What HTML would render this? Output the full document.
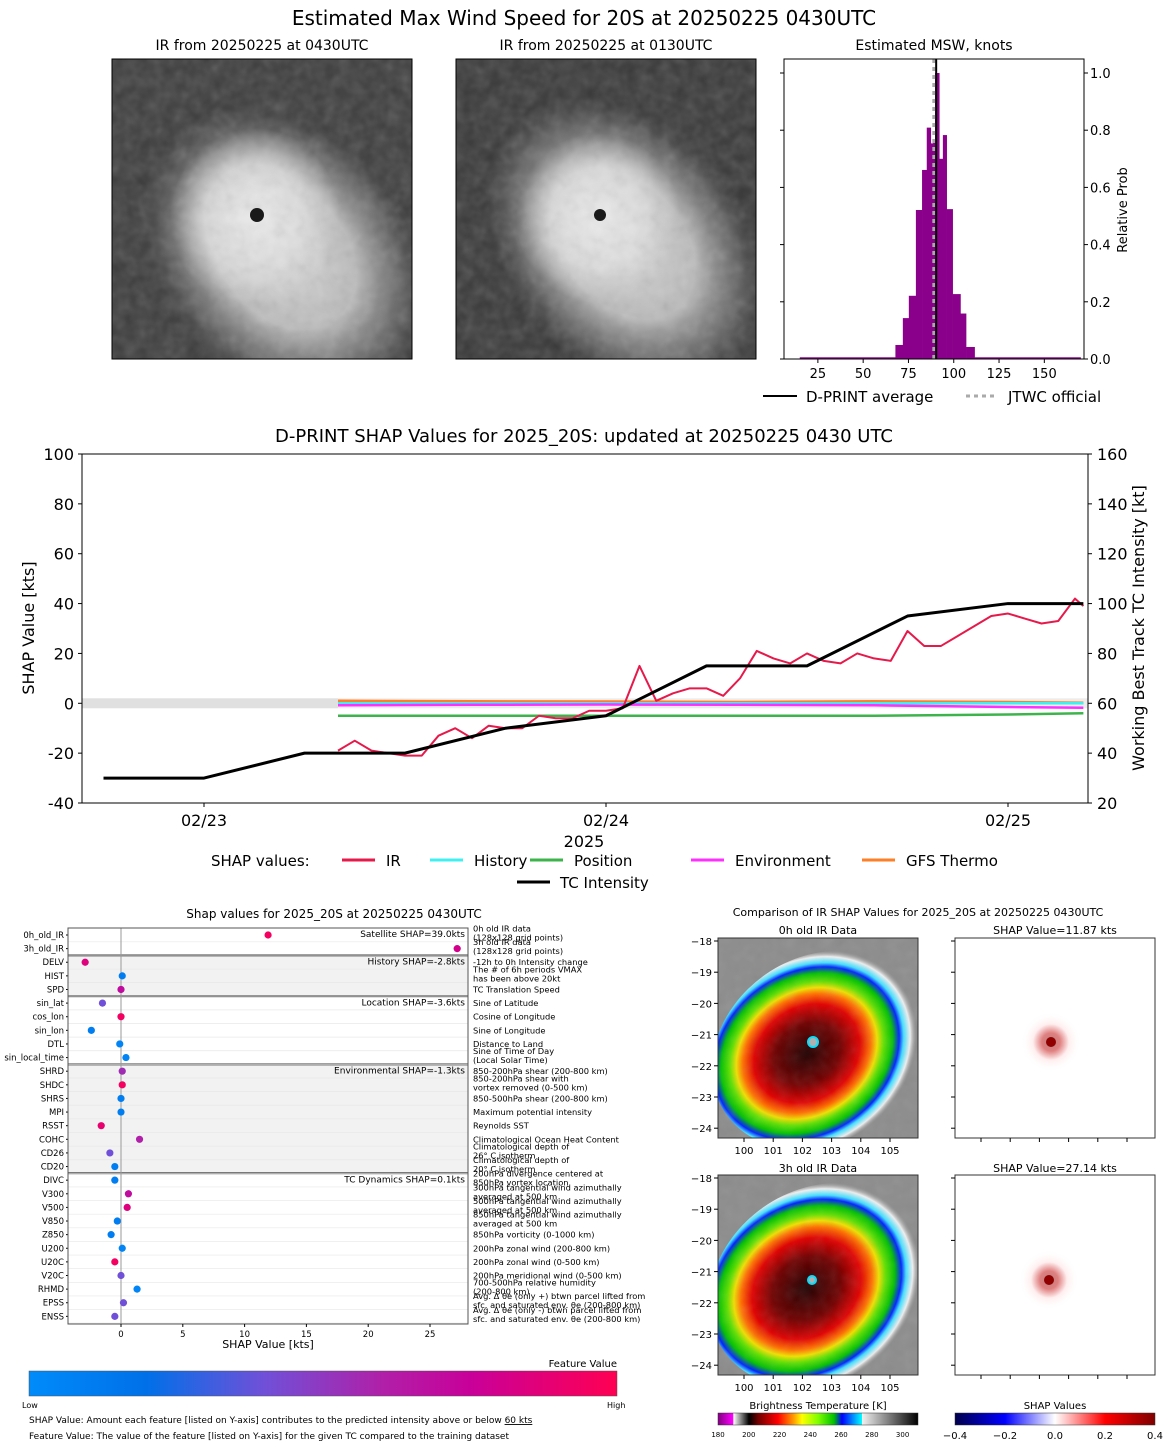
<!DOCTYPE html>
<html><head><meta charset="utf-8"><style>
body{margin:0;background:#fff;}
svg text{font-family:"DejaVu Sans","Liberation Sans",sans-serif;}
</style></head><body>
<svg id="s" width="1168" height="1446" viewBox="0 0 1168 1446" xmlns="http://www.w3.org/2000/svg">
<defs>
<clipPath id="c1"><rect x="112" y="59" width="300" height="300"/></clipPath>
<clipPath id="c2"><rect x="456" y="59" width="300" height="300"/></clipPath>
<clipPath id="c3"><rect x="718" y="938" width="200" height="200"/></clipPath>
<clipPath id="c4"><rect x="718" y="1175" width="200" height="200"/></clipPath>
<radialGradient id="cloud1" cx="0.5" cy="0.5" r="0.5">
<stop offset="0" stop-color="#d8d8d8"/><stop offset="0.5" stop-color="#c8c8c8" stop-opacity="0.9"/><stop offset="0.8" stop-color="#909090" stop-opacity="0.5"/><stop offset="1" stop-color="#606060" stop-opacity="0"/></radialGradient>
<radialGradient id="core" cx="0.5" cy="0.5" r="0.5">
<stop offset="0" stop-color="#ececec"/><stop offset="0.6" stop-color="#e0e0e0" stop-opacity="0.8"/><stop offset="1" stop-color="#d0d0d0" stop-opacity="0"/></radialGradient>
<filter id="noise"><feTurbulence type="fractalNoise" baseFrequency="0.08" numOctaves="2" seed="3"/><feColorMatrix type="saturate" values="0"/><feComponentTransfer><feFuncA type="linear" slope="0.25"/></feComponentTransfer><feComposite in2="SourceGraphic" operator="in"/></filter>
<linearGradient id="featgrad" x1="0" x2="1"><stop offset="0" stop-color="#008bfa"/><stop offset="0.2" stop-color="#0070e8"/><stop offset="0.4" stop-color="#7050d8"/><stop offset="0.6" stop-color="#b020a8"/><stop offset="0.75" stop-color="#c8009a"/><stop offset="1" stop-color="#ff0052"/></linearGradient>
<linearGradient id="btgrad" x1="0" x2="1"><stop offset="0" stop-color="#800080"/><stop offset="0.075" stop-color="#ff00ff"/><stop offset="0.078" stop-color="#ffffff"/><stop offset="0.155" stop-color="#000"/><stop offset="0.2" stop-color="#700000"/><stop offset="0.3" stop-color="#ff0000"/><stop offset="0.38" stop-color="#ffa000"/><stop offset="0.42" stop-color="#ffff00"/><stop offset="0.5" stop-color="#80ff00"/><stop offset="0.58" stop-color="#00c000"/><stop offset="0.62" stop-color="#0000ff"/><stop offset="0.72" stop-color="#00ffff"/><stop offset="0.721" stop-color="#f0f0f0"/><stop offset="1" stop-color="#000"/></linearGradient>
<linearGradient id="shapgrad" x1="0" x2="1"><stop offset="0" stop-color="#00004c"/><stop offset="0.25" stop-color="#0000ff"/><stop offset="0.5" stop-color="#ffffff"/><stop offset="0.75" stop-color="#ff0000"/><stop offset="1" stop-color="#800000"/></linearGradient>
<radialGradient id="irc" cx="0.45" cy="0.48" r="0.52">
<stop offset="0" stop-color="#200000"/><stop offset="0.3" stop-color="#700000"/><stop offset="0.48" stop-color="#e00000"/><stop offset="0.58" stop-color="#ff7000"/><stop offset="0.64" stop-color="#f0e000"/><stop offset="0.7" stop-color="#60e000"/><stop offset="0.78" stop-color="#00c000"/><stop offset="0.84" stop-color="#0020ff"/><stop offset="0.88" stop-color="#40e0ff"/><stop offset="0.94" stop-color="#f0f0f0"/><stop offset="1" stop-color="#a0a0a0" stop-opacity="0"/></radialGradient>
<radialGradient id="shapblob"><stop offset="0" stop-color="#700000"/><stop offset="0.3" stop-color="#c00000"/><stop offset="0.6" stop-color="#ffdddd"/><stop offset="1" stop-color="#ffffff" stop-opacity="0"/></radialGradient>
</defs>

<text x="584" y="25" font-size="20" text-anchor="middle">Estimated Max Wind Speed for 20S at 20250225 0430UTC</text>

<g>
<text x="262" y="50" font-size="14" text-anchor="middle">IR from 20250225 at 0430UTC</text>
<g clip-path="url(#c1)">
<rect x="112" y="59" width="300" height="300" fill="#3c3c3c"/>
<ellipse cx="285" cy="255" rx="165" ry="125" fill="url(#cloud1)" transform="rotate(50 285 255)"/>
<ellipse cx="255" cy="218" rx="85" ry="90" fill="url(#core)"/>
<rect x="112" y="59" width="300" height="300" fill="#888" filter="url(#noise)"/>
</g>
<circle cx="257" cy="215" r="7" fill="#1a1a1a"/>
<rect x="112" y="59" width="300" height="300" fill="none" stroke="#000"/>
</g>
<g>
<text x="606" y="50" font-size="14" text-anchor="middle">IR from 20250225 at 0130UTC</text>
<g clip-path="url(#c2)">
<rect x="456" y="59" width="300" height="300" fill="#383838"/>
<ellipse cx="625" cy="245" rx="165" ry="120" fill="url(#cloud1)" transform="rotate(50 625 245)"/>
<ellipse cx="598" cy="218" rx="82" ry="85" fill="url(#core)"/>
<rect x="456" y="59" width="300" height="300" fill="#888" filter="url(#noise)"/>
</g>
<circle cx="600" cy="215" r="6" fill="#1a1a1a"/>
<rect x="456" y="59" width="300" height="300" fill="none" stroke="#000"/>
</g>

<g id="hist">
<text x="934" y="50" font-size="14" text-anchor="middle">Estimated MSW, knots</text>
</g>
<g id="main"></g>
<g id="bees"></g>

<g>
<text x="918" y="916" font-size="11" text-anchor="middle">Comparison of IR SHAP Values for 2025_20S at 20250225 0430UTC</text>
<text x="818" y="934" font-size="11" text-anchor="middle">0h old IR Data</text>
<text x="1055" y="934" font-size="11" text-anchor="middle">SHAP Value=11.87 kts</text>
<text x="818" y="1172" font-size="11" text-anchor="middle">3h old IR Data</text>
<text x="1055" y="1172" font-size="11" text-anchor="middle">SHAP Value=27.14 kts</text>
<g>
<g clip-path="url(#c3)">
<rect x="718" y="938" width="200" height="200" fill="#8c8c8c"/>
<ellipse cx="818" cy="1050" rx="112" ry="92" fill="url(#irc)" transform="rotate(-35 818 1050)"/>
<rect x="718" y="938" width="200" height="200" fill="#888" filter="url(#noise)" opacity="0.5"/>
</g>
<circle cx="813" cy="1042" r="5" fill="#b0b0b0" stroke="#00e0ff" stroke-width="2"/>
<rect x="718" y="938" width="200" height="200" fill="none" stroke="#333"/>
</g>
<g>
<g clip-path="url(#c4)">
<rect x="718" y="1175" width="200" height="200" fill="#8c8c8c"/>
<ellipse cx="818" cy="1285" rx="115" ry="95" fill="url(#irc)" transform="rotate(-35 818 1285)"/>
<rect x="718" y="1175" width="200" height="200" fill="#888" filter="url(#noise)" opacity="0.5"/>
</g>
<circle cx="812" cy="1280" r="4" fill="#b0b0b0" stroke="#00e0ff" stroke-width="2"/>
<rect x="718" y="1175" width="200" height="200" fill="none" stroke="#333"/>
</g>
<g>
<rect x="955" y="938" width="200" height="200" fill="#fff" stroke="#333"/>
<circle cx="1051" cy="1042" r="30" fill="url(#shapblob)" opacity="0.5"/>
<circle cx="1051" cy="1042" r="5" fill="#900000"/>
</g>
<g>
<rect x="955" y="1175" width="200" height="200" fill="#fff" stroke="#333"/>
<circle cx="1049" cy="1280" r="30" fill="url(#shapblob)" opacity="0.5"/>
<circle cx="1049" cy="1280" r="5" fill="#900000"/>
</g>
<g id="mapaxes" font-size="10"></g>
<text x="818" y="1409" font-size="10" text-anchor="middle">Brightness Temperature [K]</text>
<rect x="718" y="1413" width="200" height="12" fill="url(#btgrad)" stroke="#333" stroke-width="0.5"/>
<text x="1055" y="1409" font-size="10" text-anchor="middle">SHAP Values</text>
<rect x="955" y="1413" width="200" height="12" fill="url(#shapgrad)" stroke="#333" stroke-width="0.5"/>
</g>

<g>
<text x="617" y="1367" font-size="10" text-anchor="end">Feature Value</text>
<rect x="29" y="1371" width="588" height="25" fill="url(#featgrad)" stroke="#555" stroke-width="0.5"/>
<text x="22" y="1408" font-size="8">Low</text>
<text x="607" y="1408" font-size="8">High</text>
<text x="29" y="1423" font-size="9">SHAP Value: Amount each feature [listed on Y-axis] contributes to the predicted intensity above or below <tspan text-decoration="underline">60 kts</tspan></text>
<text x="29" y="1439" font-size="9">Feature Value: The value of the feature [listed on Y-axis] for the given TC compared to the training dataset</text>
</g>
</svg>
<script>
const NS="http://www.w3.org/2000/svg";
function mk(parent,tag,attrs,txt){const e=document.createElementNS(NS,tag);for(const k in attrs)e.setAttribute(k,attrs[k]);if(txt!==undefined)e.textContent=txt;parent.appendChild(e);return e;}

// ---------- Histogram data ----------
const binEdges=[15,67.8,71.9,75.2,79.1,82.5,85.1,87.3,88.6,89.7,92.0,94.0,96.1,99.4,103.7,106.8,111.5,170];
const binProb=[0.006,0.049,0.143,0.221,0.521,0.661,0.809,0.754,0.76,1.0,0.70,0.783,0.524,0.227,0.159,0.042,0.006];
const histXTicks=[25,50,75,100,125,150];
const histYTicks=[0,0.2,0.4,0.6,0.8,1.0];
const dprintAvg=90.3;
const jtwcOfficial=89;

// ---------- Time series data (hours since 02/23 00UTC) ----------
const tcHours=[-6,0,6,12,18,24,30,36,42,48,52.5];
const tcIntensity=[30,30,40,40,50,55,75,75,95,100,100];
const irHours=[8,9,10,11,12,13,14,15,16,17,18,19,20,21,22,23,24,25,26,27,28,29,30,31,32,33,34,35,36,37,38,39,40,41,42,43,44,45,46,47,48,49,50,51,52,52.5];
const irShap=[-19,-15,-19,-20,-21,-21,-13,-10,-14,-9,-10,-10,-5,-6,-6,-3,-3,-2,15,1,4,6,6,3,10,21,18,16,20,17,16,20,18,17,29,23,23,27,31,35,36,34,32,33,42,39];
const compHours=[8,16,24,32,40,48,52.5];
const historyShap=[0,0,0,0,0,0,0];
const positionShap=[-5,-5,-5,-5,-5,-4.5,-4];
const environmentShap=[-0.8,-0.6,-0.5,-0.6,-0.8,-1.5,-1.8];
const gfsShap=[1,0.8,0.7,0.5,0.8,0.5,0.2];
const mainYTicks=[-40,-20,0,20,40,60,80,100];
const mainY2Ticks=[20,40,60,80,100,120,140,160];
const mainXTicks=[0,24,48];
const mainXLabels=["02/23","02/24","02/25"];

// ---------- Beeswarm data ----------
const featNames=["0h_old_IR","3h_old_IR","DELV","HIST","SPD","sin_lat","cos_lon","sin_lon","DTL","sin_local_time","SHRD","SHDC","SHRS","MPI","RSST","COHC","CD26","CD20","DIVC","V300","V500","V850","Z850","U200","U20C","V20C","RHMD","EPSS","ENSS"];
const featShap=[11.9,27.2,-2.9,0.1,0.0,-1.5,0.0,-2.4,-0.1,0.4,0.1,0.1,0.0,0.0,-1.6,1.5,-0.9,-0.5,-0.5,0.6,0.5,-0.3,-0.8,0.1,-0.5,0.0,1.3,0.2,-0.5];
const featLevel=[0.95,0.8,0.85,0.1,0.7,0.4,0.95,0.1,0.05,0.05,0.55,0.95,0.1,0.1,0.9,0.6,0.4,0.1,0.1,0.7,0.85,0.1,0.1,0.05,0.95,0.4,0.05,0.4,0.4];
const featDesc=[["0h old IR data","(128x128 grid points)"],["3h old IR data","(128x128 grid points)"],["-12h to 0h Intensity change"],["The # of 6h periods VMAX","has been above 20kt"],["TC Translation Speed"],["Sine of Latitude"],["Cosine of Longitude"],["Sine of Longitude"],["Distance to Land"],["Sine of Time of Day","(Local Solar Time)"],["850-200hPa shear (200-800 km)"],["850-200hPa shear with","vortex removed (0-500 km)"],["850-500hPa shear (200-800 km)"],["Maximum potential intensity"],["Reynolds SST"],["Climatological Ocean Heat Content"],["Climatological depth of","26° C isotherm"],["Climatological depth of","20° C isotherm"],["200hPa divergence centered at","850hPa vortex location"],["300hPa tangential wind azimuthally","averaged at 500 km"],["500hPa tangential wind azimuthally","averaged at 500 km"],["850hPa tangential wind azimuthally","averaged at 500 km"],["850hPa vorticity (0-1000 km)"],["200hPa zonal wind (200-800 km)"],["200hPa zonal wind (0-500 km)"],["200hPa meridional wind (0-500 km)"],["700-500hPa relative humidity","(200-800 km)"],["Avg. Δ θe (only +) btwn parcel lifted from","sfc. and saturated env. θe (200-800 km)"],["Avg. Δ θe (only -) btwn parcel lifted from","sfc. and saturated env. θe (200-800 km)"]];
const groupStarts=[0,2,5,10,18];
const groupLabels=["Satellite SHAP=39.0kts","History SHAP=-2.8kts","Location SHAP=-3.6kts","Environmental SHAP=-1.3kts","TC Dynamics SHAP=0.1kts"];
const beeXTicks=[0,5,10,15,20,25];

// ===== Histogram =====
(function(){
const g=document.getElementById('hist');
const L=784,R=1084,T=59,B=359;
const x=v=>L+(v-6.3)*(R-L)/(171.9-6.3);
const y=v=>B-v*286;
for(let i=0;i<binProb.length;i++){
 const r=mk(g,'rect',{x:x(binEdges[i]),y:y(binProb[i]),width:x(binEdges[i+1])-x(binEdges[i])+0.3,height:B-y(binProb[i]),fill:'#8b008b'});
 
 
}
const j=mk(g,'line',{x1:x(jtwcOfficial),x2:x(jtwcOfficial),y1:T,y2:B,stroke:'#aaa','stroke-width':3,'stroke-dasharray':'4,4'});


const a=mk(g,'line',{x1:x(dprintAvg),x2:x(dprintAvg),y1:T,y2:B,stroke:'#000','stroke-width':2});


mk(g,'rect',{x:L,y:T,width:R-L,height:B-T,fill:'none',stroke:'#000'});
histXTicks.forEach(t=>{mk(g,'line',{x1:x(t),x2:x(t),y1:B,y2:B+4,stroke:'#000'});
 const e=mk(g,'text',{x:x(t),y:B+19,'font-size':13,'text-anchor':'middle'},t);
 
 });
histYTicks.forEach(t=>{mk(g,'line',{x1:R,x2:R+4,y1:y(t),y2:y(t),stroke:'#000'});mk(g,'line',{x1:L,x2:L-4,y1:y(t),y2:y(t),stroke:'#000'});
 const e=mk(g,'text',{x:R+6,y:y(t)+5,'font-size':13},t.toFixed(1));
 
 });
const yl=mk(g,'text',{x:1127,y:210,'font-size':13,'text-anchor':'middle',transform:'rotate(-90 1127 210)'},'Relative Prob');


mk(g,'line',{x1:763,x2:797,y1:396,y2:396,stroke:'#000','stroke-width':2});
mk(g,'text',{x:806,y:402,'font-size':15},'D-PRINT average');
mk(g,'line',{x1:966,x2:998,y1:396,y2:396,stroke:'#aaa','stroke-width':3,'stroke-dasharray':'4,4'});
mk(g,'text',{x:1008,y:402,'font-size':15},'JTWC official');
})();

// ===== Main chart =====
(function(){
const g=document.getElementById('main');
const L=82,R=1088,T=454,B=803;
const x=h=>204+h*(606-204)/24;
const y=v=>B-(v+40)*(B-T)/140;
const y2=v=>B-(v-20)*(B-T)/140;
const t=mk(g,'text',{x:584,y:442,'font-size':18,'text-anchor':'middle'},'D-PRINT SHAP Values for 2025_20S: updated at 20250225 0430 UTC');


mk(g,'rect',{x:L,y:y(0)-5,width:x(8)-L,height:10,fill:'#e0e0e0'});
mk(g,'rect',{x:x(8),y:y(0)-5,width:R-x(8),height:10,fill:'#e0e0e0',opacity:0.6});
function line(hs,vs,col,w,name,yf){
 const p=mk(g,'polyline',{points:hs.map((h,i)=>x(h)+','+(yf||y)(vs[i])).join(' '),fill:'none',stroke:col,'stroke-width':w,'stroke-linejoin':'round'});
 
 
}
line(compHours,gfsShap,'#ff7f27',2.5,'gfs-thermo-line');
line(compHours,historyShap,'#40f0f0',2.5,'history-line');
line(compHours,environmentShap,'#ff30ff',2.5,'environment-line');
line(compHours,positionShap,'#3cb44b',2.5,'position-line');
line(irHours,irShap,'#e6194b',2,'ir-line');
line(tcHours,tcIntensity,'#000',3,'tc-intensity-line',y2);
mk(g,'rect',{x:L,y:T,width:R-L,height:B-T,fill:'none',stroke:'#000'});
mainYTicks.forEach(v=>{mk(g,'line',{x1:L-4,x2:L,y1:y(v),y2:y(v),stroke:'#000'});
 const e=mk(g,'text',{x:L-8,y:y(v)+6,'font-size':16,'text-anchor':'end'},v);
 
 });
mainY2Ticks.forEach(v=>{mk(g,'line',{x1:R,x2:R+4,y1:y2(v),y2:y2(v),stroke:'#000'});
 const e=mk(g,'text',{x:R+9,y:y2(v)+6,'font-size':16},v);
 
 });
mainXTicks.forEach((h,i)=>{mk(g,'line',{x1:x(h),x2:x(h),y1:B,y2:B+4,stroke:'#000'});
 const e=mk(g,'text',{x:x(h),y:B+23,'font-size':16,'text-anchor':'middle'},mainXLabels[i]);
 
 });
mk(g,'text',{x:584,y:847,'font-size':16,'text-anchor':'middle'},'2025');
const yl=mk(g,'text',{x:34,y:628,'font-size':16,'text-anchor':'middle',transform:'rotate(-90 34 628)'},'SHAP Value [kts]');


const y2l=mk(g,'text',{x:1144,y:628,'font-size':16,'text-anchor':'middle',transform:'rotate(-90 1144 628)'},'Working Best Track TC Intensity [kt]');


mk(g,'text',{x:211,y:866,'font-size':15},'SHAP values:');
const leg=[[342,'IR','#e6194b'],[430,'History','#40f0f0'],[530,'Position','#3cb44b'],[691,'Environment','#ff30ff'],[862,'GFS Thermo','#ff7f27']];
leg.forEach(l=>{const e=mk(g,'line',{x1:l[0],x2:l[0]+33,y1:860,y2:860,stroke:l[2],'stroke-width':3});
 
 
 mk(g,'text',{x:l[0]+44,y:866,'font-size':15},l[1]);});
mk(g,'line',{x1:517,x2:550,y1:882,y2:882,stroke:'#000','stroke-width':3});
mk(g,'text',{x:560,y:888,'font-size':15},'TC Intensity');
})();

// ===== Beeswarm =====
(function(){
const g=document.getElementById('bees');
const L=68,R=468,T=928,B=1324;
const x=v=>121+v*(430-121)/25;
const rowY=i=>935+i*13.62;
mk(g,'text',{x:334,y:918,'font-size':12,'text-anchor':'middle'},'Shap values for 2025_20S at 20250225 0430UTC');
const bounds=groupStarts.concat([featNames.length]);
for(let gi=0;gi<groupStarts.length;gi++){
 const y0=gi===0?T:rowY(bounds[gi])-6.8, y1=gi===groupStarts.length-1?B:rowY(bounds[gi+1])-6.8;
 mk(g,'rect',{x:L,y:y0,width:R-L,height:y1-y0,fill:(gi===1||gi===3)?'#f2f2f2':'#fff'});
 if(gi>0) mk(g,'line',{x1:L,x2:R,y1:y0,y2:y0,stroke:'#000','stroke-width':1.6});
 const e=mk(g,'text',{x:R-3,y:y0+9,'font-size':9,'text-anchor':'end'},groupLabels[gi]);
 
 
}
featNames.forEach((n,i)=>{const yy=rowY(i);
 mk(g,'line',{x1:L,x2:R,y1:yy+6.8,y2:yy+6.8,stroke:'#e8e8e8','stroke-width':0.7});
});
mk(g,'line',{x1:x(0),x2:x(0),y1:T,y2:B,stroke:'#999','stroke-width':1});
function col(f){const s=[[0,[0,139,250]],[0.2,[0,112,232]],[0.4,[112,80,216]],[0.6,[176,32,168]],[0.75,[200,0,154]],[1,[255,0,82]]];
 for(let k=1;k<s.length;k++){if(f<=s[k][0]){const a=s[k-1],b=s[k],t=(f-a[0])/(b[0]-a[0]);return 'rgb('+a[1].map((c,j)=>Math.round(c+(b[1][j]-c)*t)).join(',')+')';}}return 'rgb(255,0,82)';}
featNames.forEach((n,i)=>{const yy=rowY(i);
 const lab=mk(g,'text',{x:L-4,y:yy+3,'font-size':8.5,'text-anchor':'end'},n);
 
 
 mk(g,'line',{x1:L-2,x2:L,y1:yy,y2:yy,stroke:'#000'});
 const d=mk(g,'circle',{cx:x(featShap[i]),cy:yy,r:3.6,fill:col(featLevel[i])});
 
 
 const desc=featDesc[i];
 desc.forEach((s,k)=>{const e=mk(g,'text',{x:473,y:yy+3+(k-(desc.length-1)/2)*9+(desc.length>1?-2:0),'font-size':8.3},s);
  
  });
});
mk(g,'rect',{x:L,y:T,width:R-L,height:B-T,fill:'none',stroke:'#555'});
beeXTicks.forEach(v=>{mk(g,'line',{x1:x(v),x2:x(v),y1:B,y2:B+3,stroke:'#000'});
 const e=mk(g,'text',{x:x(v),y:B+13,'font-size':8.5,'text-anchor':'middle'},v);
 
 });
const xl=mk(g,'text',{x:268,y:1348,'font-size':11,'text-anchor':'middle'},'SHAP Value [kts]');


})();

// ===== Map axes =====
(function(){
const g=document.getElementById('mapaxes');
const lats=[-18,-19,-20,-21,-22,-23,-24];
const lons=[100,101,102,103,104,105];
[[938,1138],[1175,1375]].forEach(p=>{
 lats.forEach(v=>{const yy=p[0]+3+(-18-v)*31.2;
  mk(g,'line',{x1:714,x2:718,y1:yy,y2:yy,stroke:'#000'});
  mk(g,'text',{x:712,y:yy+4,'text-anchor':'end'},'\u2212'+Math.abs(v));
  mk(g,'line',{x1:951,x2:955,y1:yy,y2:yy,stroke:'#000'});});
 lons.forEach(v=>{const xx=744+(v-100)*29.2;
  mk(g,'line',{x1:xx,x2:xx,y1:p[1],y2:p[1]+4,stroke:'#000'});
  mk(g,'text',{x:xx,y:p[1]+16,'text-anchor':'middle'},v);
  mk(g,'line',{x1:xx+237,x2:xx+237,y1:p[1],y2:p[1]+4,stroke:'#000'});});
});
[180,200,220,240,260,280,300].forEach((v,i)=>mk(g,'text',{x:718+(v-180)*200/130,y:1437,'font-size':7,'text-anchor':'middle'},v));
['\u22120.4','\u22120.2','0.0','0.2','0.4'].forEach((s,i)=>mk(g,'text',{x:955+i*50,y:1439,'font-size':10,'text-anchor':'middle'},s));
})();
</script>
</body></html>
